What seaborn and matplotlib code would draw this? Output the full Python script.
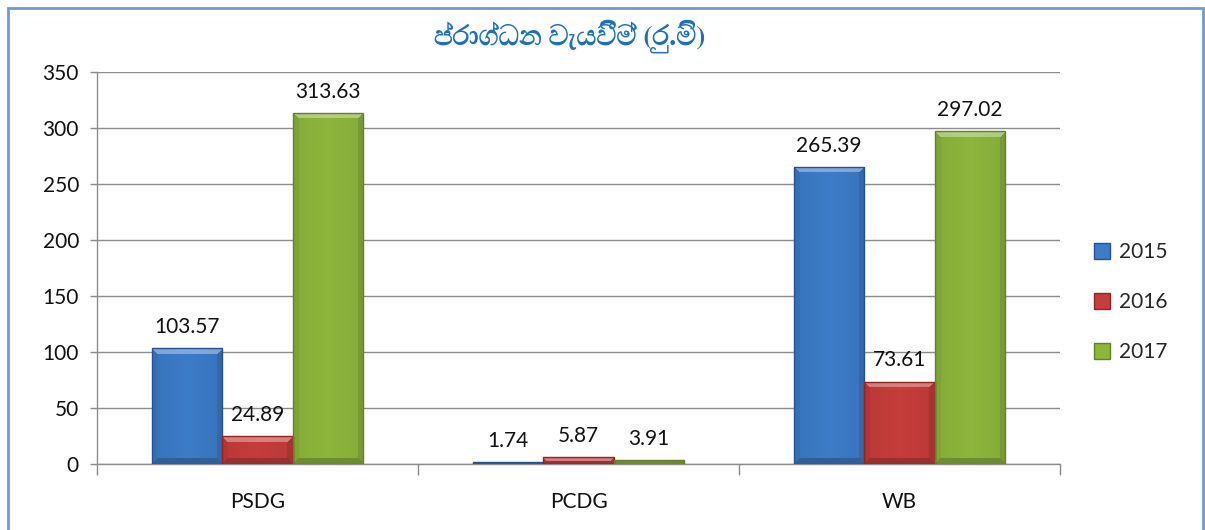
import matplotlib
matplotlib.use("Agg")
import matplotlib.pyplot as plt
from matplotlib import font_manager, ft2font
from matplotlib.colors import to_rgb
from matplotlib.patches import Rectangle
import numpy as np
import seaborn as sns
import pandas as pd

categories = ["PSDG", "PCDG", "WB"]
years = ["2015", "2016", "2017"]
values_2015 = [103.57, 1.74, 265.39]
values_2016 = [24.89, 5.87, 73.61]
values_2017 = [313.63, 3.91, 297.02]
title_text = "ප්රාග්ධන වැයවීම් (රු.මි)"
y_ticks = [0, 50, 100, 150, 200, 250, 300, 350]

colors = ["#3d7cc9", "#c63d3b", "#8db63c"]
edges = ["#24528f", "#8e2626", "#62812a"]

df = pd.DataFrame({
    "category": categories * 3,
    "year": [y for y in years for _ in categories],
    "value": values_2015 + values_2016 + values_2017,
})


def sinhala_font():
    found = []
    for path in font_manager.findSystemFonts():
        try:
            cmap = ft2font.FT2Font(path).get_charmap()
        except Exception:
            continue
        if 0x0DB4 in cmap and 0x0DCA in cmap:
            found.append(path)
    if not found:
        return None
    found.sort(key=lambda p: (0 if "Bold" in p else 1, p))
    return font_manager.FontProperties(fname=found[0])


def bevel_image(color, w_px, h_px, depth=6.0):
    """Shaded fill for a bar: light top facet, darker sides and bottom."""
    w = max(int(round(w_px)), 2)
    h = max(int(round(h_px)), 2)
    base = np.array(to_rgb(color))
    yy, xx = np.mgrid[0:h, 0:w]
    d_top, d_bot = yy, h - 1 - yy
    d_left, d_right = xx, w - 1 - xx
    dist = np.stack([d_top, d_bot, d_left, d_right])
    nearest = dist.argmin(axis=0)
    mind = dist.min(axis=0)
    b = min(depth, h / 2.0, w / 2.0)
    factor = np.ones((h, w))
    # interior: gentle horizontal shading
    factor *= 1.0 - 0.06 * np.abs((xx / (w - 1)) - 0.5) * 2
    light = np.zeros((h, w))
    facet = mind < b
    light[facet & (nearest == 0)] = 0.35
    factor[facet & (nearest == 1)] = 0.78
    factor[facet & (nearest == 2)] = 0.90
    factor[facet & (nearest == 3)] = 0.85
    img = base[None, None, :] * factor[..., None]
    img = img + (1 - img) * light[..., None]
    return np.clip(img, 0, 1)


sns.set_theme(style="white")
plt.rcParams["font.family"] = ["Lato", "DejaVu Sans"]

fig = plt.figure(figsize=(12.05, 5.30), dpi=100)
ax = fig.add_axes([97 / 1205, 66 / 530, (1060 - 97) / 1205, (464 - 72) / 530])

sns.barplot(data=df, x="category", y="value", hue="year", order=categories,
            hue_order=years, palette=colors, width=0.66, ax=ax,
            saturation=1, legend=True, errorbar=None, zorder=3)

ax.set_ylim(0, 350)
ax.set_xlim(-0.5, 2.5)

for container, color, ec in zip(ax.containers, colors, edges):
    for bar in container:
        bar.set_edgecolor(ec)
        bar.set_linewidth(1.0)
        x0, y0 = bar.get_x(), bar.get_y()
        x1, y1 = x0 + bar.get_width(), y0 + bar.get_height()
        p0 = ax.transData.transform((x0, y0))
        p1 = ax.transData.transform((x1, y1))
        img = bevel_image(color, abs(p1[0] - p0[0]), abs(p1[1] - p0[1]))
        im = ax.imshow(img, extent=(x0, x1, y0, y1), origin="upper",
                       aspect="auto", zorder=3.2, interpolation="nearest")
        im.set_clip_path(bar)
        bar.set_zorder(3.4)
        bar.set_facecolor("none")
    ax.bar_label(container, labels=[f"{v:.2f}" for v in container.datavalues],
                 padding=8, fontsize=15, color="#111111")

ax.set_ylim(0, 350)
ax.set_xlim(-0.5, 2.5)
ax.set_yticks(y_ticks)
ax.set_yticklabels([str(t) for t in y_ticks], fontsize=15, color="#111111")
ax.set_xticks(range(len(categories)))
ax.set_xticklabels(categories, fontsize=15, color="#111111")
ax.set_xticks([-0.5, 0.5, 1.5, 2.5], minor=True)
ax.tick_params(axis="x", which="major", length=0, pad=20)
ax.tick_params(axis="x", which="minor", length=8, width=1, color="#888888", bottom=True)
ax.tick_params(axis="y", length=5, width=1, color="#888888", left=True, pad=8)
ax.grid(axis="y", color="#8c8c8c", linewidth=1, zorder=0)
ax.set_axisbelow(True)
ax.set_xlabel("")
ax.set_ylabel("")
for side in ["top", "right"]:
    ax.spines[side].set_visible(False)
for side in ["left", "bottom"]:
    ax.spines[side].set_color("#8c8c8c")
    ax.spines[side].set_linewidth(1)

handles, labels = ax.get_legend_handles_labels()
ax.get_legend().remove()
for h, color, ec in zip(handles, colors, edges):
    h.set_facecolor(color)
    h.set_edgecolor(ec)
fig.legend(handles, labels, loc="center left", bbox_to_anchor=(1075 / 1205, 1 - 302 / 530),
           frameon=False, fontsize=15, handlelength=0.8, handleheight=0.8,
           handletextpad=0.4, labelspacing=1.45)

fp = sinhala_font()
if fp is not None:
    fp.set_size(20)
    fp.set_weight("bold")
    fig.text(570 / 1205, 1 - 36 / 530, title_text, fontproperties=fp,
             ha="center", va="center", color="#1f6fc1")
else:
    fig.text(570 / 1205, 1 - 36 / 530, title_text, ha="center", va="center",
             color="#1f6fc1", fontsize=20, fontweight="bold")

fig.patches.append(Rectangle((8 / 1205, -0.05), (1203 - 8) / 1205, 1.05 - 8 / 530,
                             transform=fig.transFigure, fill=False,
                             edgecolor="#6f9ad3", linewidth=2))

fig.savefig("out.png", dpi=100)
